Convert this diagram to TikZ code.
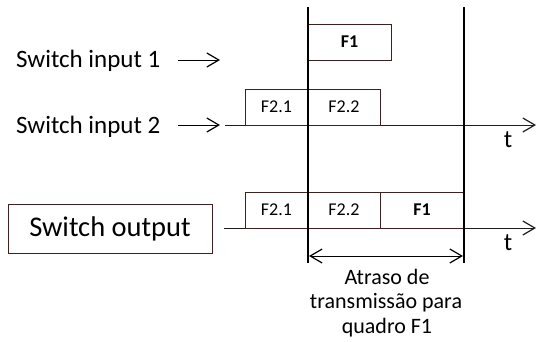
\documentclass[tikz,border=0pt]{standalone}
\usepackage{fontspec}
\setmainfont{Carlito}
\usetikzlibrary{arrows.meta}
\definecolor{frameclr}{RGB}{64,32,32}
\definecolor{axisclr}{RGB}{30,30,30}
\begin{document}
\begin{tikzpicture}[x=1pt,y=-1pt,
  frame/.style={draw=frameclr, line width=1pt, inner sep=0pt, outer sep=0pt,
    anchor=south west, minimum height=36pt, font=\fontsize{18}{21}\selectfont},
  boldframe/.style={frame, font=\fontsize{18}{21}\selectfont\bfseries},
  biglabel/.style={inner sep=0pt, anchor=base west, font=\fontsize{25}{30}\selectfont},
  caption/.style={inner sep=0pt, anchor=base, font=\fontsize{22}{25}\selectfont},
  tlabel/.style={inner sep=0pt, anchor=base, font=\fontsize{25}{30}\selectfont},
  tip/.tip={Straight Barb[length=12pt,width=14pt,line width=1.2pt]},
  barb/.style={-tip, line width=1pt},
  axis/.style={draw=axisclr, line width=1pt, -tip},
  marker/.style={line width=2.6pt, black}
]
\useasboundingbox (0,0) rectangle (536,341);

% left-hand labels
\node[biglabel] (in1) at (16,67) {Switch input 1};
\node[biglabel] (in2) at (16,133) {Switch input 2};
\node[draw=frameclr, line width=1pt, inner sep=0pt, minimum width=204pt, minimum height=49pt,
  font=\fontsize{28.5}{32}\selectfont] (out) at (110,228.5) {\raisebox{-1.5pt}{Switch output}};

% short input arrows
\coordinate (a1s) at (178,60);
\coordinate (a1e) at (220,60);
\coordinate (a2s) at (178,125);
\coordinate (a2e) at (220,125);
\draw[barb] (a1s) -- (a1e);
\draw[barb] (a2s) -- (a2e);

% time axes
\coordinate (t2s) at (225,125);
\coordinate (t2e) at (536,125);
\coordinate (tos) at (224,228);
\coordinate (toe) at (536,228);
\draw[axis] (t2s) -- (t2e);
\draw[axis] (tos) -- (toe);
\node[tlabel] (t2) at (508,147) {t};
\node[tlabel] (to) at (508,250) {t};

% frame on input 1
\node[boldframe, minimum width=83pt] (f1in) at (308,60) {F1};

% frames on input 2
\node[frame, minimum width=63pt] (f21in) at (245,125) {F2.1};
\node[frame, minimum width=72pt] (f22in) at (308,125) {F2.2};

% frames on the output
\node[frame, minimum width=63pt] (f21out) at (245,228) {F2.1};
\node[frame, minimum width=72pt] (f22out) at (308,228) {F2.2};
\node[boldframe, minimum width=84pt] (f1out) at (380,228) {F1};

% time markers
\coordinate (m1t) at (308,7);
\coordinate (m1b) at (308,263);
\coordinate (m2t) at (464,7);
\coordinate (m2b) at (464,263);
\draw[marker] (m1t) -- (m1b);
\draw[marker] (m2t) -- (m2b);

% delay span
\coordinate (ds) at (309,256);
\coordinate (de) at (463,256);
\draw[line width=1pt, tip-tip] (ds) -- (de);
\node[caption] (cap1) at (387,284) {Atraso de};
\node[caption] (cap2) at (386,308) {transmissão para};
\node[caption] (cap3) at (387,333) {quadro F1};
\end{tikzpicture}
\end{document}
